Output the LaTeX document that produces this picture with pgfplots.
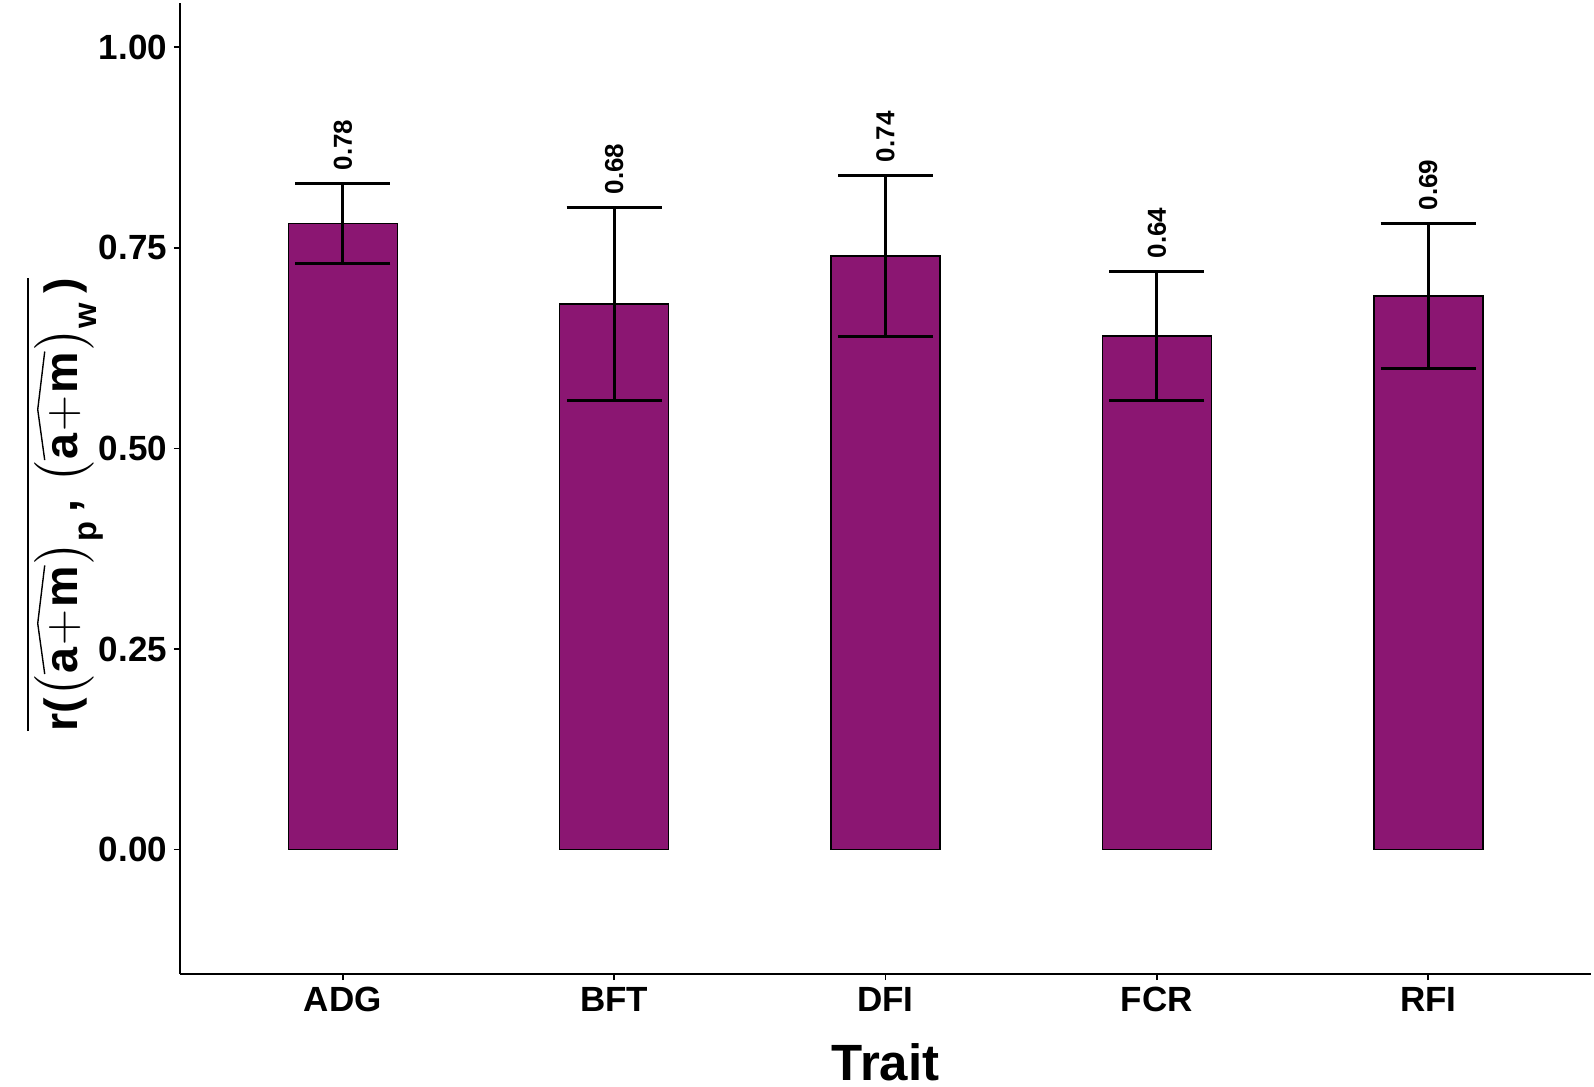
\documentclass[border=0pt]{standalone}
\usepackage{amsmath}
\usepackage{fontspec}
\setmainfont{Liberation Sans}
\usepackage{pgfplots}
\pgfplotsset{compat=1.18}
\definecolor{barpurple}{RGB}{139,22,114}
\newcommand{\myhat}[1]{\tikz[baseline=(h.base)]{\node[inner sep=0pt, rotate=0](h){#1};
  \draw[line width=0.7pt, line join=miter] ([yshift=2pt]h.north west) -- ([xshift=-0.08em, yshift=5.5pt]h.north) -- ([yshift=2pt]h.north east);}}
\begin{document}
\begin{tikzpicture}
\begin{axis}[
  scale only axis, width=705.5pt, height=485.5pt,
  xmin=0.4, xmax=5.6, ymin=-0.155, ymax=1.055,
  axis lines=left, axis line style={-, line width=0.8pt},
  tick style={line width=0.8pt, black},
  tick align=outside, major tick length=3pt,
  xtick={1,2,3,4,5}, xticklabels={ADG,BFT,DFI,FCR,RFI},
  ytick={0,0.25,0.5,0.75,1},
  yticklabel style={/pgf/number format/.cd, fixed, fixed zerofill, precision=2, assume math mode=true},
  ticklabel style={font=\fontsize{17.5}{17.5}\selectfont\bfseries},
  clip=false,
]
\addplot[ybar, bar width=54.5pt, fill=barpurple, draw=black, line width=0.8pt,
  error bars/.cd, y dir=both, y explicit,
  error bar style={line width=1.5pt, black},
  error mark options={line width=1.5pt, mark size=23.75pt, rotate=90, black}]
  table[x=x, y=y, y error plus=ep, y error minus=em] {
x y ep em
1 0.78 0.05 0.05
2 0.68 0.12 0.12
3 0.74 0.10 0.10
4 0.64 0.08 0.08
5 0.69 0.09 0.09
};
\addplot[draw=none, mark=none, nodes near coords, point meta=explicit symbolic,
  nodes near coords style={rotate=90, anchor=west, inner sep=0pt, inner xsep=6.5pt, font=\fontsize{13}{13}\selectfont\bfseries}]
  table[x=x, y=y, meta=lab] {
x y lab
1 0.83 0.78
2 0.80 0.68
3 0.84 0.74
4 0.72 0.64
5 0.78 0.69
};
\end{axis}
\path ([shift={(-90pt,-56pt)}]current axis.south west) rectangle ([shift={(1.5pt,1.5pt)}]current axis.north east);
\node[rotate=90, anchor=center, inner sep=0pt, font=\fontsize{23.3}{23.3}\selectfont\bfseries] at ([xshift=-58pt, yshift=-8pt]current axis.west)
  {$\overline{\text{r(}\!\left(\myhat{a\kern0.05em$+$\kern0.05em m}\right)_{\text{p}}\text{,\,}\left(\myhat{a\kern0.05em$+$\kern0.05em m}\right)_{\text{w}}\text{)}}$};
\node[anchor=base, inner sep=0pt, font=\fontsize{25.5}{25.5}\selectfont\bfseries] at ([yshift=-53pt]current axis.south) {Trait};
\end{tikzpicture}
\end{document}
